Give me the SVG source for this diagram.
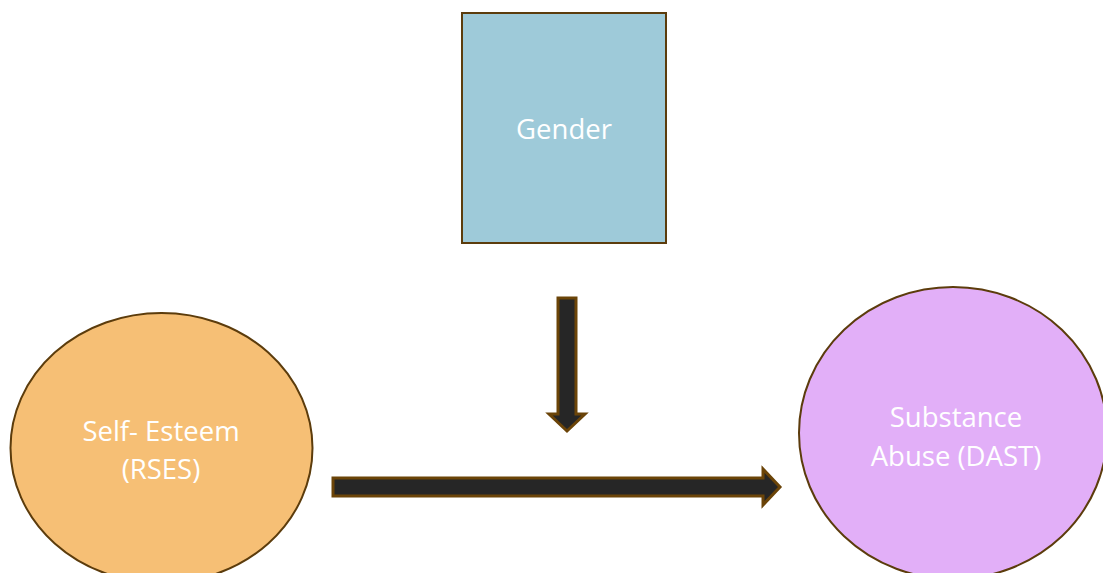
<svg xmlns="http://www.w3.org/2000/svg" width="1103" height="573" viewBox="0 0 1103 573">
<style>
.node{stroke:#5c3c0c;stroke-width:2}
.lbl{font-family:"Open Sans","Noto Sans",sans-serif;font-size:27.5px;fill:#ffffff;text-anchor:middle}
.arrow{fill:#262626;stroke:#6b4408;stroke-width:3;stroke-linejoin:miter}
</style>
<rect width="1103" height="573" fill="#ffffff"/>
<g id="gender">
<rect class="node" x="462" y="13" width="204" height="230" fill="#9ecad9"/>
<text class="lbl" x="564" y="139">Gender</text>
</g>
<g id="self-esteem">
<ellipse class="node" cx="161.5" cy="448" rx="151" ry="135" fill="#f6bf75"/>
<text class="lbl" x="161" y="441">Self- Esteem</text>
<text class="lbl" x="161" y="479">(RSES)</text>
</g>
<g id="substance-abuse">
<ellipse class="node" cx="953" cy="433" rx="154" ry="146" fill="#e2aff8"/>
<text class="lbl" x="956" y="427">Substance</text>
<text class="lbl" x="956" y="466">Abuse (DAST)</text>
</g>
<g id="connectors">
<polygon class="arrow" points="558,298 576,298 576,414 585,414 567,431 549,414 558,414"/>
<polygon class="arrow" points="333,478 763,478 763,469 780,487 763,505 763,496 333,496"/>
</g>
</svg>
